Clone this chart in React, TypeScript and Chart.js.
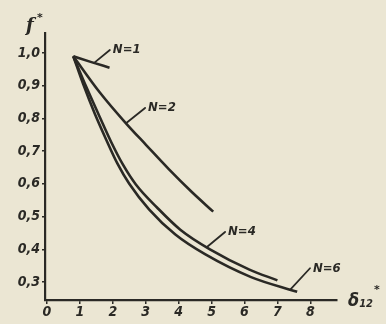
import React, { useEffect, useRef } from "react";
import { Chart, registerables } from "chart.js";
Chart.register(...registerables);

const INK = "#2a2925";
const PAPER = "#ebe6d3";

const xTicks = [0, 1, 2, 3, 4, 5, 6, 7, 8];
const yTicks = [0.3, 0.4, 0.5, 0.6, 0.7, 0.8, 0.9, 1.0];

const n1X = [0.8, 1.35, 1.9];
const n1Y = [0.99, 0.972, 0.955];
const n2X = [0.8, 1.6, 2.4, 3.0, 3.7, 4.4, 5.05];
const n2Y = [0.99, 0.88, 0.785, 0.72, 0.645, 0.575, 0.515];
const n4X = [0.8, 1.2, 1.6, 1.95, 2.3, 2.7, 3.35, 4.05, 4.95, 6.15, 7.0];
const n4Y = [0.99, 0.895, 0.805, 0.728, 0.66, 0.598, 0.527, 0.46, 0.4, 0.338, 0.305];
const n6X = [0.8, 1.1, 1.45, 1.8, 2.15, 2.5, 3.1, 3.9, 4.8, 6.2, 7.6];
const n6Y = [0.99, 0.905, 0.815, 0.735, 0.66, 0.6, 0.522, 0.445, 0.385, 0.315, 0.27];

const seriesNames = ["N=1", "N=2", "N=4", "N=6"];
const leaderFromX = [1.46, 2.4, 4.86, 7.39];
const leaderFromY = [0.972, 0.785, 0.407, 0.277];
const leaderToX = [1.91, 2.98, 5.41, 7.99];
const leaderToY = [1.009, 0.832, 0.453, 0.342];

const xMin = -0.06;
const xMax = 8.81;
const yMin = 0.245;
const yMax = 1.061;

const TICK_FONT = { family: '"DejaVu Sans Condensed", "DejaVu Sans", sans-serif', size: 14, weight: "bold" as const, style: "italic" as const };

function toPts(xs: number[], ys: number[]) {
  return xs.map((v, i) => ({ x: v, y: ys[i] }));
}

const annotPlugin = {
  id: "annot",
  beforeDraw(chart: any) {
    const { ctx, width, height } = chart;
    ctx.save();
    ctx.fillStyle = PAPER;
    ctx.fillRect(0, 0, width, height);
    ctx.restore();
  },
  afterDraw(chart: any) {
    const { ctx, chartArea } = chart;
    const sx = chart.scales.x;
    const sy = chart.scales.y;
    ctx.save();
    ctx.strokeStyle = INK;
    ctx.fillStyle = INK;
    ctx.lineWidth = 1.8;
    ctx.lineCap = "round";
    ctx.font = 'bold italic 13px "DejaVu Sans Condensed", "DejaVu Sans", sans-serif';
    ctx.textBaseline = "middle";
    ctx.textAlign = "left";
    for (let i = 0; i < seriesNames.length; i++) {
      const x0 = sx.getPixelForValue(leaderFromX[i]);
      const y0 = sy.getPixelForValue(leaderFromY[i]);
      const x1 = sx.getPixelForValue(leaderToX[i]);
      const y1 = sy.getPixelForValue(leaderToY[i]);
      ctx.beginPath();
      ctx.moveTo(x0, y0);
      ctx.lineTo(x1, y1);
      ctx.stroke();
      ctx.fillText(seriesNames[i], x1 + 3, y1);
    }
    // y axis title f*
    ctx.textBaseline = "alphabetic";
    ctx.font = 'bold italic 18px "DejaVu Serif", serif';
    ctx.fillText("f", chartArea.left - 19, chartArea.top - 2);
    ctx.font = 'bold 11px "DejaVu Sans", sans-serif';
    ctx.fillText("*", chartArea.left - 8, chartArea.top - 12);
    // x axis title δ12*
    const bx = chartArea.right + 11;
    const by = chartArea.bottom + 6;
    ctx.font = 'bold italic 18px "DejaVu Sans Condensed", "DejaVu Sans", sans-serif';
    ctx.fillText("δ", bx, by);
    const dw = ctx.measureText("δ").width;
    ctx.font = 'bold italic 11px "DejaVu Sans Condensed", "DejaVu Sans", sans-serif';
    ctx.fillText("12", bx + dw, by + 1);
    const tw = ctx.measureText("12").width;
    ctx.font = 'bold 11px "DejaVu Sans", sans-serif';
    ctx.fillText("*", bx + dw + tw + 1, by - 13);
    ctx.restore();
  },
};

export default function App() {
  const ref = useRef<HTMLCanvasElement | null>(null);
  useEffect(() => {
    if (!ref.current) return;
    const lineDs = (label: string, xs: number[], ys: number[]) => ({
      label,
      data: toPts(xs, ys),
      showLine: true,
      borderColor: INK,
      backgroundColor: INK,
      borderWidth: 2.6,
      pointRadius: 0,
      cubicInterpolationMode: "monotone" as const,
      fill: false,
    });
    const chart = new Chart(ref.current, {
      type: "scatter",
      data: {
        datasets: [
          lineDs(seriesNames[0], n1X, n1Y),
          lineDs(seriesNames[1], n2X, n2Y),
          lineDs(seriesNames[2], n4X, n4Y),
          lineDs(seriesNames[3], n6X, n6Y),
        ],
      },
      options: {
        responsive: false,
        animation: false,
        layout: { padding: { top: 33, right: 49, left: 0, bottom: 0 } },
        plugins: { legend: { display: false }, tooltip: { enabled: false } },
        scales: {
          x: {
            type: "linear",
            min: xMin,
            max: xMax,
            afterBuildTicks: (axis: any) => {
              axis.ticks = xTicks.map((v) => ({ value: v }));
            },
            afterFit: (axis: any) => {
              axis.height = 24;
            },
            border: { display: true, color: INK, width: 2.2 },
            grid: { drawOnChartArea: false, drawTicks: true, tickLength: 4, color: INK, lineWidth: 1.5 },
            ticks: { color: INK, font: TICK_FONT, padding: 0, maxRotation: 0, autoSkip: false, callback: (v: any) => String(v) },
          },
          y: {
            type: "linear",
            min: yMin,
            max: yMax,
            afterBuildTicks: (axis: any) => {
              axis.ticks = yTicks.map((v) => ({ value: v }));
            },
            afterFit: (axis: any) => {
              axis.width = 45;
            },
            border: { display: true, color: INK, width: 2.2 },
            grid: { drawOnChartArea: false, drawTicks: true, tickLength: 3, color: INK, lineWidth: 1.5 },
            ticks: {
              color: INK,
              font: TICK_FONT,
              padding: 2,
              autoSkip: false,
              callback: (v: any) => Number(v).toFixed(1).replace(".", ","),
            },
          },
        },
      },
      plugins: [annotPlugin],
    });
    return () => chart.destroy();
  }, []);
  return (
    <div style={{ position: "fixed", left: 0, top: 0, width: 386, height: 324, background: PAPER }}>
      <canvas ref={ref} width={386} height={324} style={{ display: "block" }} />
    </div>
  );
}
